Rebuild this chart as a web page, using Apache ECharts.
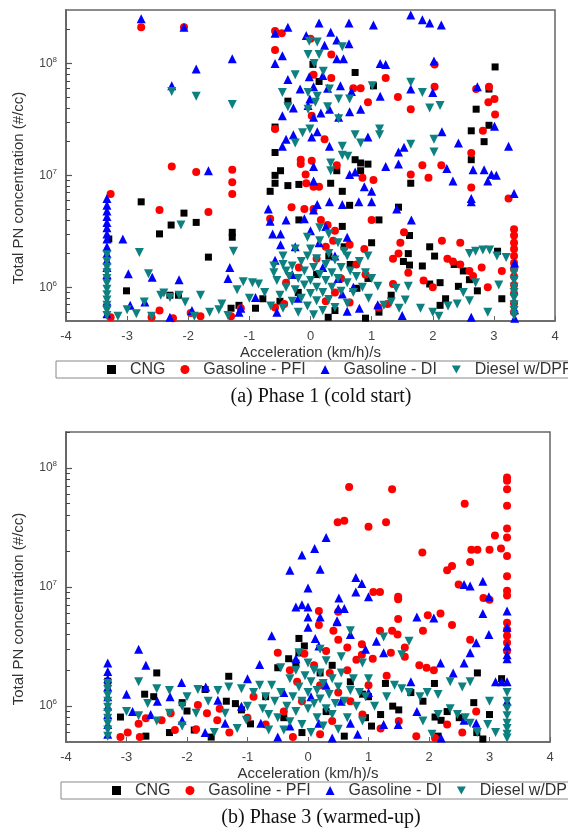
<!DOCTYPE html>
<html><head><meta charset="utf-8">
<script src="https://cdn.jsdelivr.net/npm/echarts@6/dist/echarts.min.js"></script>
<style>html,body{margin:0;padding:0;background:#fff}#c{width:568px;height:828px}</style>
</head><body><div id="c"></div>
<script>
var xTicks = [-4,-3,-2,-1,0,1,2,3,4];
var seriesNames = ['CNG','Gasoline - PFI','Gasoline - DI','Diesel w/DPF'];
var captions = ['(a) Phase 1 (cold start)','(b) Phase 3 (warmed-up)'];
var xTitle = 'Acceleration (km/h)/s';
var yTitle = 'Total PN concentration (#/cc)';
var minorTickValues = [6e5,7e5,8e5,9e5,2e6,3e6,4e6,5e6,6e6,7e6,8e6,9e6,2e7,3e7,4e7,5e7,6e7,7e7,8e7,9e7,2e8];

// ---------- Phase 1 (cold start) ----------
var p1CNG = [[0.04,9.8e7],[0.73,8.3e7],[0.14,6.9e7],[-0.37,4.6e7],[1.03,6.3e7],[2.92,5.9e7],[3.02,9.3e7],[2.71,3.9e7],[2.92,2.8e7],[2.63,2.5e7],[2.84,2.0e7],[-0.58,2.7e7],[-0.58,1.6e7],[-0.49,1.1e7],[-0.58,1.0e7],[-0.58,8.5e6],[-0.37,8.1e6],[-0.19,8.3e6],[0.73,1.38e7],[0.82,1.29e7],[0.94,1.26e7],[0.43,1.1e7],[0.33,8.5e6],[0.52,7.2e6],[0.82,1.1e7],[1.64,8.5e6],[2.63,1.38e7],[-0.66,7.2e6],
[-2.77,5.8e6],[-2.47,3.0e6],[-2.28,3.6e6],[-2.07,4.6e6],[-1.87,3.8e6],[-1.28,3.1e6],[-1.28,2.8e6],[-1.67,1.86e6],[-3.01,9.3e5],[-2.16,8.5e5],[-1.17,6.9e5],[-0.78,7.9e5],[-0.19,4.0e6],[0.52,3.5e6],[0.64,5.4e6],[1.12,4.0e6],[1.0,2.5e6],[1.44,5.2e6],[1.62,2.9e6],[1.6,2.0e6],[1.52,1.7e6],[1.62,1.58e6],[1.83,1.55e6],[1.95,2.3e6],[2.03,1.9e6],[1.95,1.07e6],[2.12,1.1e6],[2.42,1.02e6],[2.35,1.6e6],[2.5,1.4e6],[2.6,1.17e6],[2.73,9.3e5],[2.21,7.9e5],[2.12,6.9e5],[3.13,7.9e5],[3.06,2.1e6],[1.12,6.0e5],[1.32,8.5e5],[0.76,9.8e5],[0.94,1.2e6],[0.29,5.4e5],[0.9,5.3e5],[-3.3,2.7e6],[-0.9,6.5e5],[-0.5,7.5e5],[-0.2,9.0e5],[0.1,1.3e6],[0.3,1.9e6],[0.55,2.3e6],[0.65,1.6e6],[0.4,6.2e5],[-1.3,6.5e5],[-2.3,8.5e5]];

var p1PFI = [[-2.77,2.1e8],[-2.07,2.1e8],[-0.58,1.95e8],[-0.47,1.86e8],[-0.58,1.32e8],[0.0,1.66e8],[0.34,1.2e8],[2.03,9.8e7],[0.70,6.0e7],[0.82,6.0e7],[1.23,7.4e7],[0.94,4.5e7],[1.43,5.0e7],[1.64,3.9e7],[0.05,7.9e7],[0.34,7.4e7],[0.02,3.4e7],[-0.58,2.6e7],[0.23,2.1e7],[2.03,6.2e7],[2.71,5.9e7],[2.92,6.2e7],[2.91,4.5e7],[3.01,4.8e7],[3.02,3.5e7],[2.82,2.5e7],[2.63,1.58e7],[-2.27,1.2e7],[-1.87,1.07e7],[-1.28,1.12e7],[-1.28,8.7e6],[-1.28,6.8e6],[-3.27,6.8e6],[-0.16,1.38e7],[-0.16,1.26e7],[0.02,1.35e7],[-0.08,1.02e7],[-0.07,8.5e6],[0.05,7.9e6],[0.14,7.9e6],[0.43,1.23e7],[0.85,9.5e6],[1.03,9.1e6],[1.64,1.02e7],[1.83,1.23e7],[1.93,9.5e6],[2.14,1.23e7],[2.63,7.8e6],[3.24,6.2e6],
[-2.47,4.9e6],[-1.67,4.7e6],[-0.66,4.1e6],[-0.31,5.2e6],[-0.1,5.0e6],[0.05,5.0e6],[0.17,4.0e6],[0.28,3.6e6],[0.4,3.2e6],[0.37,2.6e6],[0.25,2.3e6],[1.0,4.0e6],[1.53,3.1e6],[1.47,2.5e6],[1.44,2.0e6],[1.35,1.8e6],[2.15,2.6e6],[2.45,2.5e6],[2.24,1.8e6],[2.33,1.7e6],[2.45,1.6e6],[2.6,1.4e6],[2.66,1.26e6],[1.35,1.07e6],[1.26,7.1e5],[0.88,2.2e6],[0.64,2.4e6],[3.13,1.4e6],[3.33,3.3e6],[3.33,2.9e6],[3.33,2.5e6],[3.33,2.2e6],[3.33,1.9e6],[3.33,1.65e6],[3.33,1.45e6],[3.33,1.25e6],[3.33,1.05e6],[3.33,8.8e5],[3.33,7.2e5],[3.33,6.0e5],
[-2.47,6.2e5],[-3.27,5.4e5],[-2.6,5.4e5],[-2.25,5.3e5],[-1.96,5.9e5],[-1.8,5.5e5],[-1.14,6.5e5],[-0.58,6.6e5],[-0.43,7.1e5],[0.25,7.5e5],[0.64,7.3e5],[1.11,6.6e5],[-0.19,1.5e6],[0.1,1.8e6],[0.5,1.2e6],[0.75,1.6e6],[-0.4,1.1e6],[0.9,1.3e6],[1.6,1.35e6],[1.85,1.15e6],[2.0,1.0e6],[2.8,1.5e6],[2.9,1.0e6],[-1.3,5.5e5],[0.4,9.0e5]];

var p1DI = [[-2.77,2.5e8],[-2.07,2.1e8],[-2.27,6.3e7],[-1.87,8.9e7],[-1.28,1.1e8],[-1.67,1.1e7],[-0.58,1.86e8],[-0.37,2.1e8],[-0.58,1.0e8],[-0.46,1.17e8],[0.14,2.3e8],[0.63,2.3e8],[1.03,2.2e8],[1.64,2.7e8],[1.83,2.45e8],[1.95,2.3e8],[2.14,2.2e8],[-0.07,1.78e8],[0.33,1.9e8],[0.23,1.45e8],[0.43,1.62e8],[0.63,1.5e8],[0.54,1.1e8],[0.43,1.1e8],[1.14,1.0e8],[1.23,9.8e7],[2.02,1.05e8],[-0.37,7.2e7],[-0.02,7.6e7],[0.20,7.8e7],[-0.17,5.9e7],[0.05,6.2e7],[0.28,6.0e7],[0.49,6.3e7],[0.67,5.6e7],[1.14,5.1e7],[1.64,5.9e7],[2.00,5.5e7],[2.73,6.2e7],[3.01,2.75e7],[3.24,1.82e7],[-0.01,4.8e7],[-0.04,4.2e7],[0.17,3.6e7],[0.05,3.3e7],[-0.46,3.4e7],[-0.28,4.0e7],[0.31,3.9e7],[0.46,3.3e7],[0.64,3.7e7],[0.82,3.9e7],[0.11,2.45e7],[-0.28,2.3e7],[-0.40,2.1e7],[-0.46,1.82e7],[0.02,2.2e7],[0.31,1.82e7],[0.94,2.2e7],[2.15,2.45e7],[2.42,1.95e7],[1.44,1.62e7],[1.53,1.78e7],[2.23,1.15e7],[2.33,8.9e6],[1.44,1.26e7],[1.23,1.2e7],[2.66,1.12e7],[2.84,1.12e7],[2.96,1.02e7],[3.04,1.0e7],[2.90,8.9e6],[3.33,6.9e6],[0.64,1.02e7],[0.73,1.07e7],[0.88,7.9e6],[1.0,7.2e6],[0.05,1.2e7],[0.05,8.9e6],[2.63,6.2e6],
[-3.33,6.2e6],[-3.33,5.4e6],[-3.33,4.8e6],[-3.33,4.3e6],[-3.33,3.8e6],[-3.33,3.4e6],[-3.33,3.0e6],[-3.33,2.7e6],[-3.33,2.3e6],[-3.33,2.0e6],[-3.33,1.75e6],[-3.33,1.5e6],[-3.33,1.3e6],[-3.33,7.5e5],[-3.33,5.8e5],
[-3.07,2.7e6],[-2.98,1.32e6],[-2.59,1.23e6],[-2.15,1.17e6],[-1.32,1.5e6],[-1.35,1.2e6],[-1.17,6.0e5],[-0.9,8.1e5],[-0.69,5.0e6],[-0.66,3.9e6],[-0.40,4.0e6],[-0.49,3.0e6],[-0.62,3.0e6],[-0.10,4.1e6],[0.11,5.5e6],[0.31,5.8e6],[0.52,5.5e6],[0.79,5.8e6],[1.0,5.8e6],[0.05,4.9e6],[1.41,5.0e6],[1.65,4.0e6],[2.63,5.8e6],[3.34,1.65e6],[3.34,6.3e5],[3.34,5.3e5],[2.63,5.4e5],[-1.14,6.5e5],[-2.95,6.9e5],[-2.71,7.4e5],[-1.94,6.2e5],[0.14,2.5e6],[0.52,8.7e5],[0.6,6.1e5],[-0.58,1.74e6],[-0.49,2.4e6],[-0.3,1.3e6],[0.2,1.5e6],[0.4,1.9e6],[0.45,1.2e6],[0.7,1.0e6],[-0.2,8.0e5],[0.8,6.5e5],[1.1,7.0e5],[1.5,5.6e5],[-2.3,5.4e5],[-0.55,6.0e5],[0.0,3.2e6],[0.25,3.5e6],[0.6,2.8e6],[-0.25,2.3e6]];

var p1Diesel = [[-2.27,5.6e7],[-1.87,5.1e7],[-1.28,4.3e7],[-0.25,7.9e7],[-0.02,1.58e8],[0.11,1.55e8],[-0.04,1.2e8],[0.14,1.2e8],[0.06,1.0e8],[0.21,8.5e7],[0.52,1.41e8],[-0.46,5.5e7],[-0.04,5.5e7],[0.11,5.1e7],[0.31,5.9e7],[0.46,4.8e7],[0.64,4.8e7],[1.01,6.3e7],[1.64,6.8e7],[1.83,5.5e7],[1.95,4.0e7],[2.12,4.2e7],[-0.37,4.1e7],[-0.04,3.9e7],[0.08,4.5e7],[0.28,4.1e7],[-0.01,2.6e7],[-0.13,2.4e7],[0.46,3.2e7],[0.73,2.3e7],[0.82,1.95e7],[1.13,2.6e7],[1.13,2.3e7],[2.02,2.1e7],[2.02,1.62e7],[0.52,1.82e7],[0.52,1.51e7],[0.61,1.48e7],[-0.25,1.95e7],[0.33,1.29e7],[0.33,1.1e7],[1.64,1.9e7],
[-3.33,1.95e6],[-3.33,1.7e6],[-3.33,1.5e6],[-3.33,1.35e6],[-3.33,1.2e6],[-3.33,1.08e6],[-3.33,9.6e5],[-3.33,8.6e5],[-3.33,7.7e5],[-3.33,6.9e5],[-3.33,6.2e5],[-3.33,5.6e5],
[-2.8,2.05e6],[-2.12,3.6e6],[-2.65,1.32e6],[-3.0,6.3e5],[-2.85,5.8e5],[-2.72,7.4e5],[-2.4,8.9e5],[-2.3,8.1e5],[-2.45,8.5e5],[-2.15,8.5e5],[-1.8,8.5e5],[-2.05,7.4e5],[-1.45,7.1e5],[-1.5,6.3e5],[-1.35,5.6e5],[-1.26,2.1e6],[-1.1,1.12e6],[-0.95,1.1e6],[-0.85,1.07e6],[-0.6,1.35e6],[-0.45,1.6e6],[-0.4,1.4e6],[-1.0,8.0e5],[-1.2,9.5e5],[-0.75,9.0e5],[-1.65,6.0e5],[-2.6,5.5e5],[-3.15,5.5e5],[-1.9,5.5e5],
[-0.55,1.15e6],[-0.5,8.5e5],[-0.45,6.5e5],[-0.4,1.0e6],[-0.35,1.25e6],[-0.3,7.5e5],[-0.3,1.55e6],[-0.25,9.5e5],[-0.2,1.2e6],[-0.2,6.0e5],[-0.15,1.7e6],[-0.15,8.0e5],[-0.1,1.05e6],[-0.1,1.4e6],[-0.05,6.8e5],[-0.05,1.9e6],[0.0,1.15e6],[0.0,8.8e5],[0.0,2.2e6],[0.05,1.5e6],[0.05,5.7e5],[0.1,1.0e6],[0.1,7.6e5],[0.1,1.8e6],[0.15,1.3e6],[0.15,2.6e6],[0.2,9.0e5],[0.2,6.2e5],[0.25,1.6e6],[0.25,1.15e6],[0.3,2.0e6],[0.3,7.8e5],[0.35,1.35e6],[0.35,1.0e6],[0.4,1.75e6],[0.4,6.6e5],[0.45,1.2e6],[0.5,9.2e5],[0.5,1.5e6],[0.55,2.1e6],[0.6,1.1e6],[0.6,7.2e5],[0.65,1.4e6],[0.7,9.0e5],[0.75,1.25e6],[0.8,1.7e6],[0.85,1.0e6],[0.9,1.35e6],[0.95,8.0e5],[1.0,1.2e6],[-0.6,1.55e6],[-0.65,6.8e5],[0.3,3.0e6],[0.15,3.4e6],[-0.05,2.8e6],[0.45,2.5e6],[0.6,1.9e6],[-0.25,2.2e6],[-0.45,1.9e6],
[0.94,1.9e6],[1.1,1.02e6],[1.4,9.8e5],[1.6,1.02e6],[1.32,7.4e5],[1.45,6.5e5],[1.2,6.9e5],[1.55,7.7e5],[2.0,6.0e5],[2.1,5.5e5],[2.4,7.1e5],[2.6,7.6e5],[2.6,2.0e6],[2.7,2.1e6],[2.82,2.15e6],[2.93,2.15e6],[3.05,1.9e6],[3.2,1.85e6],[3.08,1.05e6],[2.7,1.1e6],[2.5,9.0e5],[3.33,1.35e6],[3.33,1.15e6],[3.33,1.0e6],[3.33,9.0e5],[3.33,8.0e5],[3.33,7.0e5],[3.33,6.2e5],[3.33,5.6e5],[1.8,6.5e5],[2.25,6.8e5],[2.9,6.0e5]];

// ---------- Phase 3 (warmed-up) ----------
var p3CNG = [[-3.31,1.62e6],[-2.5,1.9e6],[-2.7,1.26e6],[-2.55,1.2e6],[-3.1,8.1e5],[-2.68,5.6e5],[-2.29,6.0e5],[-2.08,1.07e6],[-2.0,9.1e5],[-1.88,6.3e5],[-1.7,1.38e6],[-1.31,1.78e6],[-1.2,1.05e6],[-1.1,9.3e5],[-0.95,7.1e5],[-0.5,2.1e6],[-0.32,2.5e6],[-0.2,2.3e6],[-0.15,3.7e6],[-0.06,3.2e6],[-0.15,2.8e6],[0.7,1.6e6],[0.9,1.26e6],[1.2,8.5e5],[1.4,1.0e6],[1.5,9.3e5],[1.28,1.55e6],[2.09,1.55e6],[2.1,8.1e5],[2.2,7.6e5],[2.15,5.6e5],[2.3,9.0e5],[2.74,1.07e6],[2.8,1.9e6],[2.79,6.0e5],[2.89,5.3e5],[3.2,1.7e6],[1.0,1.2e6],[0.95,8.0e5],[1.05,6.8e5],[-1.35,1.1e6],[-0.7,1.2e6],[-0.4,8.0e5],[0.2,1.9e6],[0.4,2.2e6],[0.3,9.0e5],[-0.1,6.0e5],[1.7,1.3e6],[2.5,8.0e5],[-1.6,5.5e5],[0.6,5.6e5],[1.9,1.1e6],[3.0,8.5e5]];

var p3PFI = [[0.68,6.9e7],[1.39,6.6e7],[0.49,3.5e7],[0.6,3.6e7],[1.0,3.2e7],[1.29,3.5e7],[2.59,5.0e7],[3.29,8.3e7],[3.29,7.8e7],[3.29,6.6e7],[3.29,4.8e7],[3.29,3.1e7],[3.29,2.6e7],[3.29,1.82e7],[3.29,1.23e7],[3.29,9.3e6],[3.29,8.5e6],[3.09,2.7e7],[3.19,2.1e7],[2.7,2.05e7],[2.8,2.05e7],[3.0,2.05e7],[2.68,1.62e7],[1.89,1.95e7],[2.3,1.38e7],[2.38,1.5e7],[2.49,1.05e7],[1.08,9.1e6],[1.19,9.1e6],[1.49,8.3e6],[1.49,7.9e6],[2.9,8.1e6],[3.0,7.8e6],[0.18,6.3e6],[0.5,6.2e6],[1.49,5.4e6],[1.98,5.8e6],[2.19,6.0e6],
[0.18,4.8e6],[0.42,4.3e6],[0.5,3.6e6],[0.3,2.9e6],[0.65,3.1e6],[0.89,3.3e6],[1.19,4.3e6],[1.39,4.3e6],[1.48,4.0e6],[1.6,3.1e6],[0.89,2.7e6],[0.8,2.45e6],[1.07,2.5e6],[1.9,4.3e6],[2.38,4.8e6],[2.68,3.6e6],[1.84,2.2e6],[1.96,2.1e6],[2.08,2.0e6],[1.37,2.8e6],[1.6,2.6e6],[0.65,2.0e6],[0.36,1.9e6],[3.29,5.0e6],[3.29,4.4e6],[3.29,3.9e6],[3.29,3.4e6],[3.29,2.9e6],[2.78,9.0e5],[1.79,5.6e5],[-1.46,9.5e5],[-1.67,8.7e5],[-1.82,1.02e6],[-1.5,7.6e5],[-2.27,8.7e5],[-2.42,7.6e5],[-2.68,7.9e5],[-2.8,7.1e5],[-2.98,6.0e5],[-3.1,5.5e5],[-2.78,5.5e5],[-2.2,6.3e5],[-1.85,6.4e5],[-0.5,2.8e6],[-0.3,2.0e6],[-0.06,2.75e6],[-0.18,1.6e6],[0.1,2.2e6],[0.2,1.5e6],[0.5,1.3e6],[0.7,1.1e6],[-0.1,1.1e6],[-0.4,9.0e5],[-0.7,7.0e5],[-1.0,8.0e5],[0.4,7.5e5],[0.9,8.5e5],[1.2,6.5e5],[1.5,7.5e5],[1.0,1.5e6],[1.3,1.8e6],[-1.3,6.0e5],[-0.9,1.2e6],[-0.25,5.5e5],[0.2,5.8e5],[2.3,7.0e5],[2.55,6.0e5],[2.1,5.4e5]];

var p3DI = [[-0.30,1.38e7],[-0.10,1.86e7],[0.11,2.1e7],[0.30,2.6e7],[0.20,1.41e7],[0.0,9.8e6],[-0.2,6.8e6],[-0.1,7.1e6],[0.0,6.8e6],[0.0,5.6e6],[0.2,5.6e6],[0.51,8.1e6],[0.5,6.6e6],[0.6,6.6e6],[0.48,5.2e6],[0.79,1.2e7],[0.79,9.1e6],[0.89,1.07e7],[1.0,8.3e6],[1.8,5.6e6],[2.08,5.5e6],[2.58,1.05e7],[2.68,1.02e7],[2.89,1.12e7],[2.99,8.3e6],[2.89,6.0e6],[3.29,6.3e6],
[-3.31,2.3e6],[-3.31,1.95e6],[-3.31,1.7e6],[-3.31,1.45e6],[-3.31,1.2e6],[-3.31,1.0e6],[-3.31,8.5e5],[-3.31,7.0e5],[-3.31,5.8e5],
[-2.8,3.0e6],[-2.68,2.2e6],[-3.0,1.26e6],[-2.49,1.1e6],[-2.28,1.2e6],[-2.09,1.58e6],[-1.69,1.45e6],[-1.49,1.12e6],[-1.0,1.7e6],[-0.6,3.9e6],[-0.8,2.24e6],[0.0,4.6e6],[0.12,3.7e6],[0.18,3.2e6],[0.48,5.1e6],[0.7,4.0e6],[0.95,3.0e6],[1.13,3.5e6],[1.25,2.8e6],[2.19,2.3e6],[2.58,2.3e6],[2.68,2.8e6],[2.78,3.4e6],[2.99,4.0e6],[3.29,4.6e6],[3.29,3.2e6],[3.29,2.7e6],[3.29,2.5e6],[3.29,1.6e6],[3.29,1.1e6],[3.1,1.6e6],[3.2,1.6e6],[1.25,7.0e5],[1.49,7.0e5],[2.58,7.6e5],[2.78,7.2e5],[1.8,9.0e5],[0.7,7.2e5],[0.82,5.8e5],[0.18,7.2e5],[-0.3,6.8e5],[-0.78,7.2e5],[-1.37,7.2e5],[-2.08,7.6e5],[-1.1,1.0e6],[-0.4,1.3e6],[0.3,1.5e6],[0.55,1.1e6],[-0.2,2.5e6],[0.05,1.2e6],[1.0,1.3e6],[-0.5,5.5e5],[0.4,5.4e5],[2.2,5.4e5],[-1.7,6.0e5],[1.7,1.6e6],[2.4,1.9e6],[-2.6,8.5e5],[-2.9,9.0e5]];

var p3Diesel = [[-3.31,1.55e6],[-3.31,1.38e6],[-3.31,1.23e6],[-3.31,1.1e6],[-3.31,9.8e5],[-3.31,8.8e5],[-3.31,7.9e5],[-3.31,7.1e5],[-3.31,6.3e5],[-3.31,5.6e5],
[-2.8,1.6e6],[-2.5,1.4e6],[-2.29,1.35e6],[-2.08,1.0e6],[-1.82,1.38e6],[-1.49,1.35e6],[-1.31,1.45e6],[-1.1,1.4e6],[-0.9,1.3e6],[-3.0,9.0e5],[-2.8,8.3e5],[-2.5,7.5e5],[-2.29,8.7e5],[-2.08,6.8e5],[-1.85,8.7e5],[-1.55,6.0e5],[-1.37,8.7e5],[-1.17,6.5e5],[-1.02,7.6e5],[-2.65,1.05e6],[-2.0,1.2e6],[-1.65,1.1e6],[-0.75,9.5e5],[-0.65,6.3e5],
[1.43,1.5e6],[1.55,1.4e6],[1.67,1.3e6],[1.85,1.2e6],[1.97,1.3e6],[2.15,1.25e6],[2.35,1.6e6],[2.55,1.45e6],[2.68,1.6e6],[2.15,8.5e5],[2.35,9.5e5],[2.47,8.5e5],[2.6,8.0e5],[2.68,7.2e5],[2.97,7.0e5],[2.8,6.0e5],[1.55,2.7e6],[1.67,3.5e6],[1.25,3.8e6],[0.7,4.3e6],[1.1,1.0e6],[1.3,1.2e6],[1.9,7.5e5],[2.05,5.8e5],[3.0,1.1e6],[3.1,6.0e5],
[3.29,1.3e6],[3.29,1.1e6],[3.29,9.5e5],[3.29,8.3e5],[3.29,7.2e5],[3.29,6.5e5],[3.29,5.8e5],[3.29,5.4e5],
[-0.6,1.5e6],[-0.55,1.1e6],[-0.5,8.0e5],[-0.45,1.3e6],[-0.4,6.3e5],[-0.35,1.0e6],[-0.3,1.7e6],[-0.3,7.4e5],[-0.25,1.2e6],[-0.2,9.0e5],[-0.2,2.0e6],[-0.15,1.45e6],[-0.1,7.0e5],[-0.1,1.1e6],[-0.05,1.8e6],[0.0,1.3e6],[0.0,9.5e5],[0.0,2.3e6],[0.05,6.0e5],[0.05,1.6e6],[0.1,1.05e6],[0.1,2.0e6],[0.15,8.0e5],[0.15,1.35e6],[0.2,1.15e6],[0.2,1.9e6],[0.25,6.8e5],[0.25,1.55e6],[0.3,9.5e5],[0.3,2.4e6],[0.35,1.25e6],[0.4,1.7e6],[0.4,8.5e5],[0.45,1.05e6],[0.5,1.45e6],[0.5,6.4e5],[0.55,1.9e6],[0.6,1.1e6],[0.65,8.0e5],[0.7,1.35e6],[0.75,1.7e6],[0.8,1.0e6],[0.85,1.3e6],[0.9,7.5e5],[0.95,1.2e6],[-0.7,1.2e6],[-0.65,8.5e5],[-0.8,1.5e6],[-1.0,1.0e6],[-0.45,2.1e6],[0.55,2.6e6],[-0.15,2.8e6],[0.2,3.0e6],[0.9,2.3e6],[1.0,1.7e6]];

var panelData = [[p1CNG,p1PFI,p1DI,p1Diesel],[p3CNG,p3PFI,p3DI,p3Diesel]];
var colors = ['#000000','#ff0000','#0000ff','#0f8080'];
var downTri = 'path://M0,0L10,0L5,9Z';
var symbols = ['rect','circle','triangle',downTri];
var symSize = [7,8,9,9];

var grids = [
  {left:66, right:13, top:10, height:311, show:true, borderColor:'#666', borderWidth:1.5, backgroundColor:'transparent'},
  {left:66, right:18, top:432, height:310, show:true, borderColor:'#666', borderWidth:1.5, backgroundColor:'transparent'}
];
var yMin = 5e5, yMax = [3e8, 2e8];

var xAxes = [], yAxes = [], series = [];
for (var g=0; g<2; g++){
  xAxes.push({gridIndex:g, type:'value', min:xTicks[0], max:xTicks[xTicks.length-1], interval:1,
    axisLine:{show:true, onZero:false, lineStyle:{color:'#666', width:1.5}},
    axisTick:{show:true, inside:true, length:5, lineStyle:{color:'#666'}},
    axisLabel:{fontFamily:'Liberation Sans', fontSize:13, color:'#444', margin:9},
    splitLine:{show:false},
    name:xTitle, nameLocation:'middle', nameGap:24,
    nameTextStyle:{fontFamily:'Liberation Sans', fontSize:15, color:'#333'}});
  yAxes.push({gridIndex:g, type:'log', logBase:10, min:yMin, max:yMax[g], position:'left',
    axisLine:{show:true, onZero:false, lineStyle:{color:'#666', width:1.5}},
    axisTick:{show:true, inside:true, length:6, lineStyle:{color:'#555', width:1.2}},
    axisLabel:{showMinLabel:false, showMaxLabel:false, margin:9,
      formatter:function(v){return '{b|10}{s|' + Math.round(Math.log10(v)) + '}';},
      rich:{b:{fontFamily:'Liberation Sans', fontSize:12, color:'#444'},
            s:{fontFamily:'Liberation Sans', fontSize:8, color:'#444', padding:[0,0,8,0]}}},
    splitLine:{show:false}});
  // helper axis (exponent scale) used only to draw logarithmic minor ticks
  yAxes.push({gridIndex:g, type:'value', min:Math.log10(yMin), max:Math.log10(yMax[g]), position:'left',
    axisLine:{show:true, onZero:false, lineStyle:{color:'#666', width:1.5}},
    axisTick:{show:true, inside:true, length:4, customValues:minorTickValues.map(Math.log10), lineStyle:{color:'#444', width:1}},
    axisLabel:{show:false}, splitLine:{show:false}});
  for (var s=0; s<4; s++){
    series.push({type:'scatter', name:seriesNames[s], xAxisIndex:g, yAxisIndex:g*2,
      data:panelData[g][s], symbol:symbols[s], symbolSize:symSize[s],
      itemStyle:{color:colors[s], opacity:1}, emphasis:{disabled:true}, animation:false});
  }
}

function legendCfg(left, top){
  var items = [];
  for (var k=0;k<seriesNames.length;k++) items.push({name:seriesNames[k], icon:symbols[k]});
  return {left:left, top:top, width:900, orient:'horizontal', data:items, itemWidth:9, itemHeight:9, itemGap:15,
    padding:[0,12,0,51], borderColor:'#888', borderWidth:1,
    formatter:function(n){return '  ' + n;},
    textStyle:{fontFamily:'Liberation Sans', fontSize:16, color:'#333', lineHeight:17}, selectedMode:false};
}

var graphic = [];
var titleY = [188, 609], capY = [397, 818];
for (var i=0;i<2;i++){
  graphic.push({type:'text', x:19, y:titleY[i], rotation:Math.PI/2,
    style:{text:yTitle, font:'15px "Liberation Sans"', fill:'#333', textAlign:'center', textVerticalAlign:'middle'}});
  graphic.push({type:'text', x:321, y:capY[i],
    style:{text:captions[i], font:'20px "Liberation Serif"', fill:'#111', textAlign:'center', textVerticalAlign:'middle'}});
}

var chart = echarts.init(document.getElementById('c'), null, {renderer:'canvas'});
chart.setOption({
  animation:false,
  grid:grids, xAxis:xAxes, yAxis:yAxes, series:series,
  legend:[legendCfg(56,361), legendCfg(61,782)],
  graphic:graphic
});
</script></body></html>
